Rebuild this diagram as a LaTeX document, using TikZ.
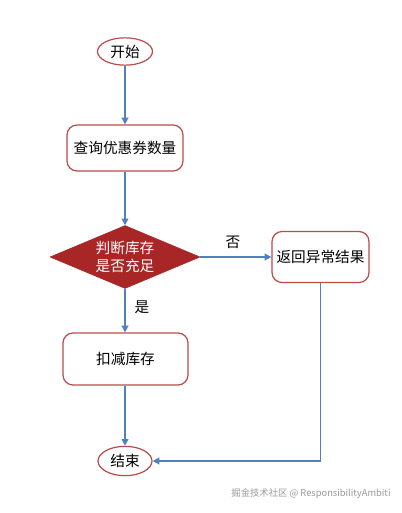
\documentclass[tikz,border=0pt]{standalone}
\usepackage{fontspec}
\newfontfamily\cjk{Noto Sans CJK SC}
\usetikzlibrary{shapes.geometric,arrows.meta}
\definecolor{edgered}{RGB}{185,75,75}
\definecolor{diafill}{RGB}{168,38,38}
\definecolor{flowblue}{RGB}{79,129,189}
\begin{document}
\begin{tikzpicture}[x=0.75pt,y=-0.75pt,
  txt/.style={font=\cjk\fontsize{11}{14}\selectfont, text=black},
  term/.style={ellipse, draw=edgered, line width=0.9pt, fill=white, inner sep=0pt, txt},
  proc/.style={rectangle, rounded corners=7.5pt, draw=edgered, line width=0.9pt, fill=white, inner sep=0pt, txt},
  dec/.style={diamond, draw=diafill, fill=diafill, inner sep=0pt},
  dectext/.style={txt, text=white, align=center},
  lbl/.style={txt},
  flow/.style={draw=flowblue, line width=1.1pt, -{Triangle[length=5pt,width=5pt]}}
]
\useasboundingbox (0,0) rectangle (402,513);
\fill[white] (0,0) rectangle (402,513);

\node[term, minimum width=41.25pt, minimum height=20.5pt] (start) at (125,51.5) {开始};
\node[proc, minimum width=87pt, minimum height=34.5pt] (query) at (125,148) {查询优惠券数量};
\node[dec, minimum width=112.5pt, minimum height=47.25pt,
      label={[dectext]center:判断库存\\[-1pt]是否充足}] (check) at (125,257) {};
\node[proc, minimum width=72.75pt, minimum height=38.25pt] (err) at (320.5,257) {返回异常结果};
\node[proc, minimum width=93.75pt, minimum height=39pt] (reduce) at (125.5,359) {扣减库存};
\node[term, minimum width=40.5pt, minimum height=22pt] (finish) at (125,461) {结束};

\node[lbl] (no) at (233,242) {否};
\node[lbl] (yes) at (142,307) {是};

\draw[flow] (start) -- (query);
\draw[flow] (query) -- (check);
\draw[flow] (check) -- (err);
\draw[flow] (check) -- (check.south |- reduce.north);
\draw[flow] (reduce.south -| finish.north) -- (finish);
\draw[flow] (err) |- (finish);

\node[font=\cjk\fontsize{7}{8}\selectfont, text=black!40] (wm) at (311,494) {掘金技术社区 @ ResponsibilityAmbiti};
\end{tikzpicture}
\end{document}
